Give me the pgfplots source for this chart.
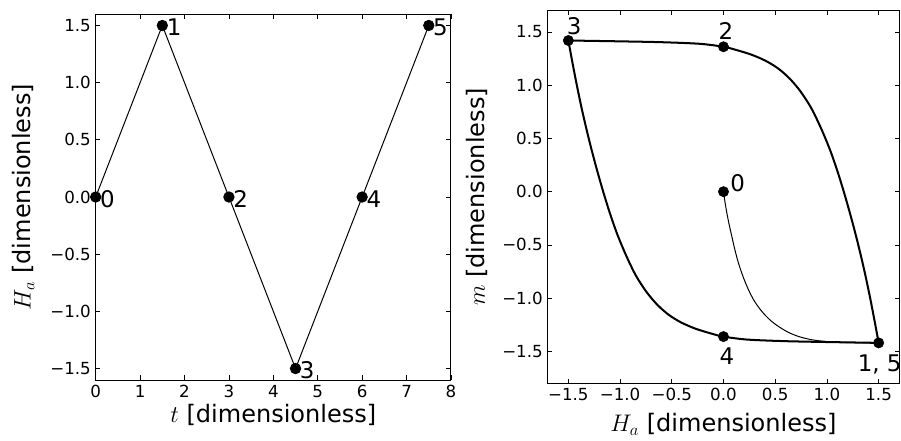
\documentclass[border=0pt]{standalone}
\usepackage{fontspec}
\setmainfont{DejaVu Sans}
\usepackage{pgfplots}
\pgfplotsset{compat=1.18}

% common look of both panels
\pgfplotsset{
  panel/.style={
    scale only axis,
    clip mode=individual,
    axis line style={line width=0.72pt},
    every tick/.style={black, line width=0.6pt},
    major tick length=3.4pt,
    tick align=inside,
    xtick pos=both, ytick pos=both,
    tick label style={font=\fontsize{12}{14}\selectfont},
    every axis x label/.style={at={(axis description cs:0.5,0)}, anchor=center,
      font=\fontsize{17.3}{20}\selectfont},
    every axis y label/.style={at={(axis description cs:0,0.5)}, anchor=center,
      rotate=90, font=\fontsize{17.3}{20}\selectfont},
  },
}
\tikzset{ptlabel/.style={inner sep=0pt, font=\fontsize{16.5}{19}\selectfont}}

% applied field over time
\pgfplotstableread{
t    H
0.0  0.0
1.5  1.5
3.0  0.0
4.5 -1.5
6.0  0.0
7.5  1.5
}\fieldtable

% initial magnetisation curve (0 -> 1)
\pgfplotstableread{
H      m
0.000  0.000
0.015 -0.100
0.033 -0.203
0.055 -0.310
0.081 -0.422
0.110 -0.545
0.145 -0.672
0.190 -0.800
0.242 -0.922
0.300 -1.030
0.372 -1.126
0.450 -1.205
0.532 -1.266
0.625 -1.320
0.726 -1.360
0.850 -1.390
0.985 -1.407
1.130 -1.415
1.270 -1.418
1.500 -1.420
}\initialtable

% descending branch of the loop (1 -> 2 -> 3)
\pgfplotstableread{
H       m
 1.500 -1.420
 1.458 -1.200
 1.418 -1.000
 1.375 -0.800
 1.328 -0.600
 1.277 -0.400
 1.222 -0.200
 1.163  0.000
 1.099  0.200
 1.027  0.400
 0.941  0.600
 0.848  0.786
 0.745  0.941
 0.640  1.062
 0.530  1.156
 0.410  1.228
 0.270  1.287
 0.120  1.332
 0.000  1.361
-0.230  1.389
-0.600  1.404
-1.000  1.412
-1.500  1.420
}\downtable

% ascending branch of the loop (3 -> 4 -> 5)
\pgfplotstableread{
H       m
-1.500  1.420
-1.458  1.200
-1.418  1.000
-1.375  0.800
-1.328  0.600
-1.277  0.400
-1.222  0.200
-1.163  0.000
-1.099 -0.200
-1.027 -0.400
-0.941 -0.600
-0.848 -0.786
-0.745 -0.941
-0.640 -1.062
-0.530 -1.156
-0.410 -1.228
-0.270 -1.287
-0.120 -1.332
 0.000 -1.361
 0.230 -1.389
 0.600 -1.404
 1.000 -1.412
 1.500 -1.420
}\uptable

% marked states 0..5
\pgfplotstableread{
H      m
 0.000  0.000
 1.500 -1.420
 0.000  1.361
-1.500  1.420
 0.000 -1.361
}\statetable

\begin{document}
\begin{tikzpicture}
% left panel: H_a(t)
\begin{axis}[panel,
  at={(68.9pt,43.9pt)}, anchor=south west,
  width=255.8pt, height=263.5pt,
  xmin=0, xmax=8, ymin=-1.6, ymax=1.6,
  xtick={0,1,2,3,4,5,6,7,8},
  xticklabels={0,1,2,3,4,5,6,7,8},
  ytick={-1.5,-1,-0.5,0,0.5,1,1.5},
  yticklabels={−1.5,−1.0,−0.5,0.0,0.5,1.0,1.5},
  xlabel={$t$ [dimensionless]},
  ylabel={$H_a$ [dimensionless]},
  xlabel style={yshift=-25.2pt},
  ylabel style={yshift=52.1pt},
]
\addplot[black, line width=0.72pt, mark=*, mark size=3.7pt] table[x=t, y=H] {\fieldtable};
\node[ptlabel, anchor=west, xshift=3pt, yshift=-1.2pt] at (axis cs:0,0) {0};
\node[ptlabel, anchor=west, xshift=3pt, yshift=-1.2pt] at (axis cs:1.5,1.5) {1};
\node[ptlabel, anchor=west, xshift=3pt, yshift=-1.2pt] at (axis cs:3,0) {2};
\node[ptlabel, anchor=west, xshift=3pt, yshift=-1.2pt] at (axis cs:4.5,-1.5) {3};
\node[ptlabel, anchor=west, xshift=3pt, yshift=-1.2pt] at (axis cs:6,0) {4};
\node[ptlabel, anchor=west, xshift=3pt, yshift=-1.2pt] at (axis cs:7.5,1.5) {5};
\end{axis}

% right panel: m(H_a)
\begin{axis}[panel,
  at={(394.3pt,41.5pt)}, anchor=south west,
  width=253.2pt, height=268.3pt,
  xmin=-1.7, xmax=1.7, ymin=-1.8, ymax=1.7,
  xtick={-1.5,-1,-0.5,0,0.5,1,1.5},
  xticklabels={−1.5,−1.0,−0.5,0.0,0.5,1.0,1.5},
  ytick={-1.5,-1,-0.5,0,0.5,1,1.5},
  yticklabels={−1.5,−1.0,−0.5,0.0,0.5,1.0,1.5},
  xlabel={$H_a$ [dimensionless]},
  ylabel={$m$ [dimensionless]},
  xlabel style={yshift=-29.5pt},
  ylabel style={yshift=50.7pt},
]
\addplot[black, line width=0.72pt, smooth, tension=0.5] table[x=H, y=m] {\initialtable};
\addplot[black, line width=1.45pt, smooth, tension=0.5] table[x=H, y=m] {\downtable};
\addplot[black, line width=1.45pt, smooth, tension=0.5] table[x=H, y=m] {\uptable};
\addplot[only marks, black, mark=*, mark size=3.7pt] table[x=H, y=m] {\statetable};
\node[ptlabel, anchor=south west, xshift=4.8pt, yshift=0pt] at (axis cs:0,0) {0};
\node[ptlabel, anchor=south, xshift=1.7pt, yshift=4.8pt] at (axis cs:0,1.361) {2};
\node[ptlabel, anchor=south, xshift=4.1pt, yshift=4.1pt] at (axis cs:-1.5,1.42) {3};
\node[ptlabel, anchor=north, xshift=2.4pt, yshift=-7.9pt] at (axis cs:0,-1.361) {4};
\node[ptlabel, anchor=north, xshift=0.7pt, yshift=-8.4pt] at (axis cs:1.5,-1.42) {1, 5};
\end{axis}

\pgfresetboundingbox
\path[use as bounding box] (0,0) rectangle (648.7pt,317.5pt);
\end{tikzpicture}
\end{document}
